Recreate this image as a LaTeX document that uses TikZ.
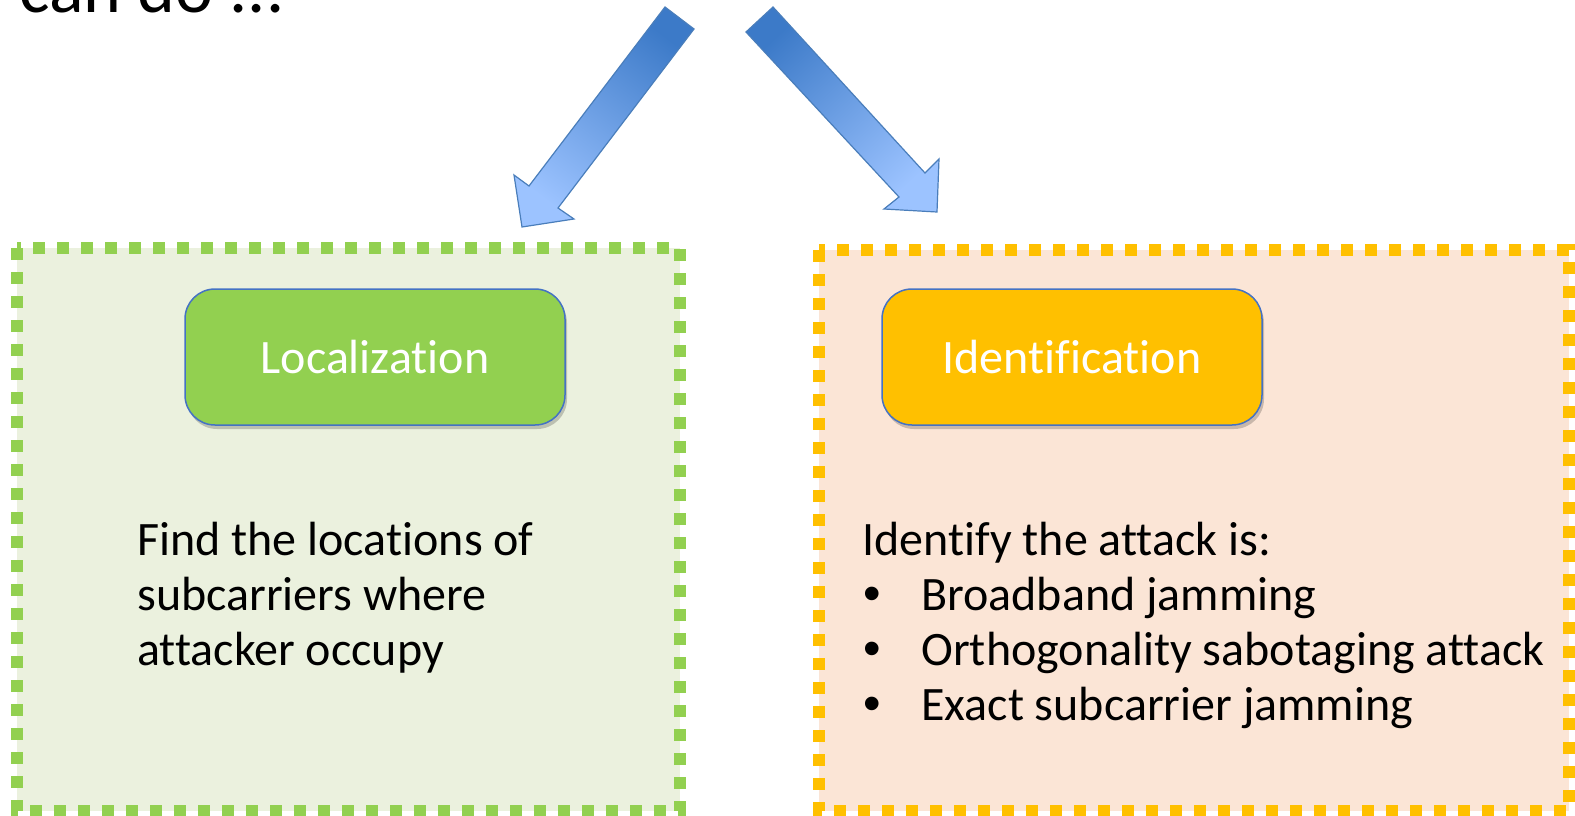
\documentclass[tikz,border=0pt]{standalone}
\usepackage{fontspec}
\setmainfont{Carlito}[Ligatures={NoCommon}]
\newfontfamily\bulletfont{Liberation Sans}
\usetikzlibrary{shadows}
\definecolor{locgreen}{HTML}{92D050}
\definecolor{locpale}{HTML}{EBF1DE}
\definecolor{idorange}{HTML}{FFC000}
\definecolor{idpale}{HTML}{FBE5D6}
\definecolor{edgeblue}{HTML}{4472C4}
\definecolor{arrowdark}{HTML}{3C7AC8}
\definecolor{arrowlight}{HTML}{9CC3FF}
\definecolor{arrowedge}{HTML}{4A7EBB}
\tikzset{
  dotframe/.style={line width=6pt, dash pattern=on 6pt off 6pt},
  labelbox/.style={rounded corners=15pt, draw=edgeblue, line width=0.75pt, text=white,
    minimum width=190pt, minimum height=68pt, inner sep=0pt,
    font=\fontsize{24}{28}\selectfont,
    drop shadow={shadow xshift=1pt, shadow yshift=-2pt, opacity=0.2, fill=black}},
  bodytext/.style={anchor=base west, inner sep=0pt, font=\fontsize{24}{28}\selectfont},
  blockarrow/.style={draw=arrowedge, line width=0.6pt, top color=arrowdark, bottom color=arrowlight}
}
\begin{document}
\begin{tikzpicture}[x=0.5pt,y=-0.5pt]
\useasboundingbox (0,0) rectangle (1575,815);
\begin{scope}
\clip (0,0) rectangle (1575,815);
% heading, cut off at the top
\node [anchor=base west, inner sep=0pt, font=\fontsize{36}{42}\selectfont] (cando) at (19,12) {can do ...};
% the two arrows
\shadedraw [blockarrow, shading angle=-37] (665,7) -- (694,29) -- (558,208) -- (574,219) -- (522,227) -- (514,175) -- (529,186) -- cycle;
\shadedraw [blockarrow, shading angle=43] (746,32) -- (773,7) -- (925,173) -- (939,159) -- (937,212) -- (884,209) -- (899,197) -- cycle;
% frames
\draw [dotframe, draw=locgreen, fill=locpale] (17,248) rectangle (680,811);
\draw [dotframe, draw=idorange, fill=idpale] (819,250) rectangle (1569,811);
\end{scope}
% left frame
\node [labelbox, fill=locgreen] (loc) at (375,357) {Localization};
\node [bodytext] (find1) at (137,555) {Find the locations of};
\node [bodytext] (find2) at (137,610) {subcarriers where};
\node [bodytext] (find3) at (137,665) {attacker occupy};
% right frame
\node [labelbox, fill=idorange] (ident) at (1072,357) {Identification};
\node [bodytext] (idline) at (862,555) {Identify the attack is:};
\node [bodytext, font=\bulletfont\fontsize{25}{28}\selectfont] (dot1) at (863,610) {\textbullet};
\node [bodytext] (item1) at (921,610) {Broadband jamming};
\node [bodytext, font=\bulletfont\fontsize{25}{28}\selectfont] (dot2) at (863,665) {\textbullet};
\node [bodytext] (item2) at (921,665) {Orthogonality sabotaging attack};
\node [bodytext, font=\bulletfont\fontsize{25}{28}\selectfont] (dot3) at (863,720) {\textbullet};
\node [bodytext] (item3) at (921,720) {Exact subcarrier jamming};
\end{tikzpicture}
\end{document}
